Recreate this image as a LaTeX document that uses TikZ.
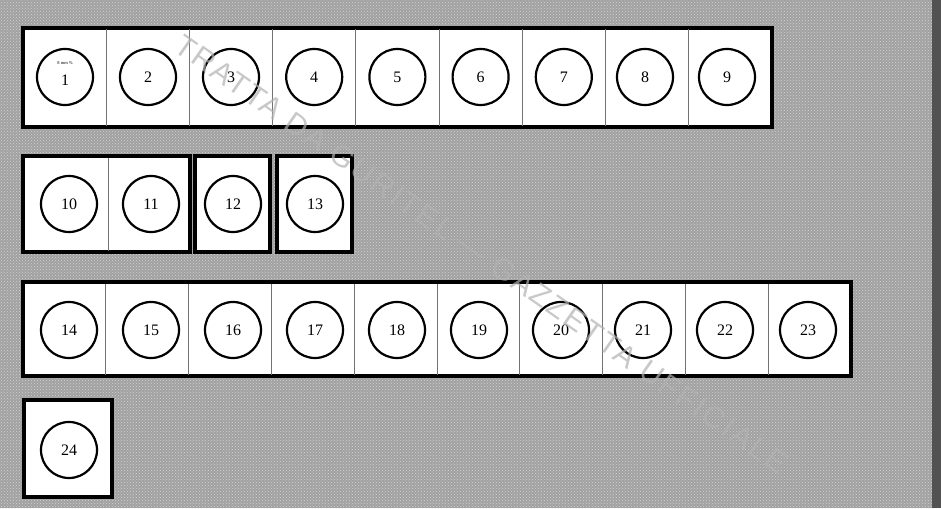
\documentclass[tikz,border=0pt]{standalone}
\usepackage{fontspec}
\setmainfont{Liberation Serif}
\setsansfont{Liberation Sans}
\usetikzlibrary{patterns}

\begin{document}
\begin{tikzpicture}[x=1pt,y=-1pt,font=\fontsize{16}{16}\selectfont]
\tikzstyle{slot}=[draw,circle,minimum size=56pt,inner sep=0pt,line width=2.2pt]
\tikzstyle{frame}=[draw,line width=3.2pt,fill=white]
\tikzstyle{cut}=[draw=black!55,line width=0.8pt]
% scanned page background
\fill[gray!74] (0,0) rectangle (941,508);
\fill[pattern=crosshatch dots,pattern color=gray!35] (0,0) rectangle (941,508);
\fill[black!68] (932,0) rectangle (941,508);
\useasboundingbox (0,0) rectangle (941,508);
% row 1
\draw[frame] (23,28) rectangle (772,127);
\foreach \x in {106.2,189.4,272.6,355.8,439,522.2,605.4,688.6} \draw[cut] (\x,29.5) -- (\x,125.5);
\node[slot] (c1) at (65,77) {}; \node[font=\fontsize{4.5}{4.5}\selectfont] (c1t) at (65,63.5) {8 mm \%}; \node (c1n) at (65,80) {1};
\node[slot] (c2) at (148,77) {2}; \node[slot] (c3) at (231,77) {3}; \node[slot] (c4) at (314.2,77) {4};
\node[slot] (c5) at (397.4,77) {5}; \node[slot] (c6) at (480.6,77) {6}; \node[slot] (c7) at (563.8,77) {7};
\node[slot] (c8) at (645,77) {8}; \node[slot] (c9) at (727,77) {9};
% row 2
\draw[frame] (23,156) rectangle (190,252); \draw[cut] (108,157.5) -- (108,250.5);
\draw[frame] (195,156) rectangle (270,252);
\draw[frame] (277,156) rectangle (352,252);
\node[slot] (c10) at (69,204) {10}; \node[slot] (c11) at (151,204) {11};
\node[slot] (c12) at (233,204) {12}; \node[slot] (c13) at (315,204) {13};
% row 3
\draw[frame] (23,282) rectangle (851,376);
\foreach \x in {105.8,188.6,271.4,354.2,437,519.8,602.6,685.4,768.2} \draw[cut] (\x,283.5) -- (\x,374.5);
\node[slot] (c14) at (69,330) {14}; \node[slot] (c15) at (151,330) {15}; \node[slot] (c16) at (233,330) {16};
\node[slot] (c17) at (315,330) {17}; \node[slot] (c18) at (397,330) {18}; \node[slot] (c19) at (479,330) {19};
\node[slot] (c20) at (561,330) {20}; \node[slot] (c21) at (643,330) {21}; \node[slot] (c22) at (725,330) {22};
\node[slot] (c23) at (808,330) {23};
% row 4
\draw[frame] (24,400) rectangle (112,497);
\node[slot] (c24) at (69,450) {24};
% watermark of the scan
\node[text=gray!60,opacity=0.7,font=\sffamily\fontsize{30}{30}\selectfont\addfontfeatures{LetterSpace=8},rotate=-35,anchor=base west,inner sep=0pt] (wm) at (172,50) {TRATTA DA GURITEL --- GAZZETTA UFFICIALE};
\end{tikzpicture}
\end{document}
